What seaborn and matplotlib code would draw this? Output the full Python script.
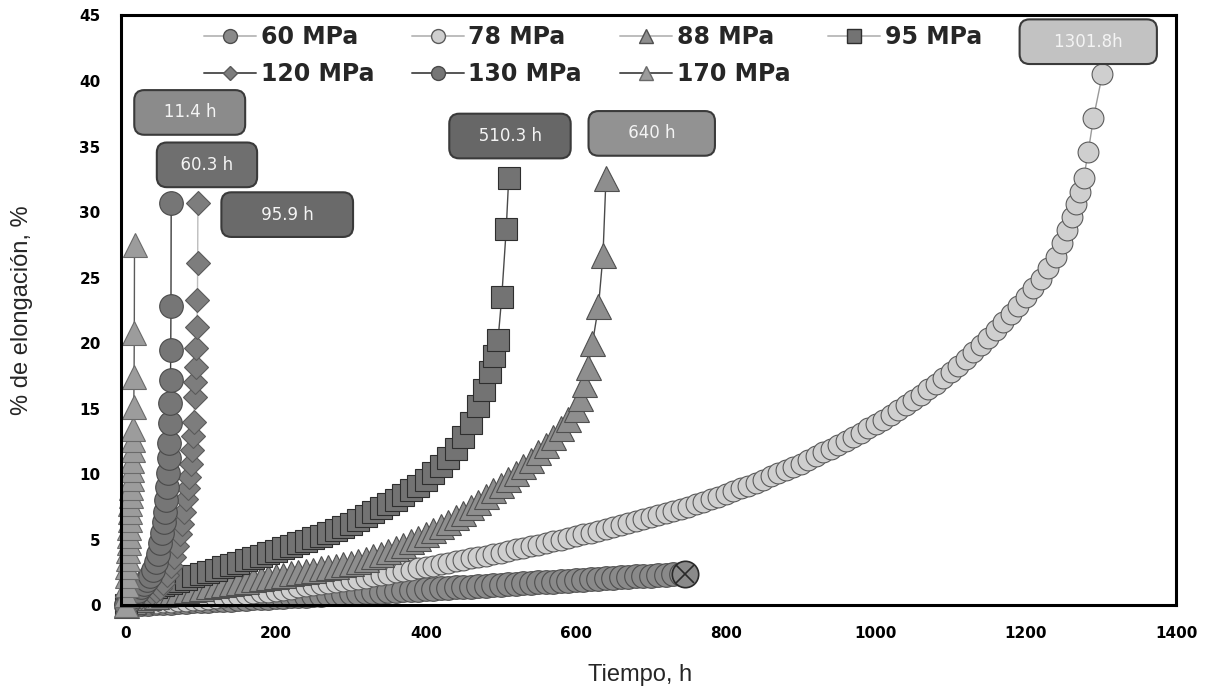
import matplotlib
matplotlib.use("Agg")
import matplotlib.pyplot as plt
from matplotlib.lines import Line2D
from matplotlib.ticker import MultipleLocator
import seaborn as sns

# ---------------- data (time in h, elongation in %) ----------------
t60 = [0, 10, 20, 30, 40, 50, 60, 70, 80, 90,
       100, 110, 120, 130, 140, 150, 160, 170, 180, 190,
       200, 210, 220, 230, 240, 250, 260, 270, 280, 290,
       300, 310, 320, 330, 340, 350, 360, 370, 380, 390,
       400, 410, 420, 430, 440, 450, 460, 470, 480, 490,
       500, 510, 520, 530, 540, 550, 560, 570, 580, 590,
       600, 610, 620, 630, 640, 650, 660, 670, 680, 690,
       700, 710, 720, 730, 740, 745]
e60 = [0, 0.03, 0.06, 0.09, 0.12, 0.15, 0.18, 0.21, 0.24, 0.27,
       0.3, 0.33, 0.36, 0.39, 0.42, 0.45, 0.48, 0.51, 0.54, 0.57,
       0.6, 0.63, 0.66, 0.69, 0.72, 0.75, 0.78, 0.81, 0.84, 0.87,
       0.9, 0.93, 0.96, 0.99, 1.02, 1.05, 1.08, 1.11, 1.14, 1.17,
       1.2, 1.23, 1.27, 1.3, 1.34, 1.37, 1.41, 1.44, 1.48, 1.51,
       1.55, 1.58, 1.62, 1.65, 1.69, 1.72, 1.76, 1.79, 1.83, 1.86,
       1.9, 1.93, 1.97, 2.0, 2.04, 2.07, 2.11, 2.14, 2.18, 2.21,
       2.25, 2.28, 2.32, 2.35, 2.38, 2.4]

t78 = [0, 10, 20, 30, 40, 50, 60, 70, 80, 90,
       100, 110, 120, 130, 140, 150, 160, 170, 180, 190,
       200, 210, 220, 230, 240, 250, 260, 270, 280, 290,
       300, 310, 320, 330, 340, 350, 360, 370, 380, 390,
       400, 410, 420, 430, 440, 450, 460, 470, 480, 490,
       500, 510, 520, 530, 540, 550, 560, 570, 580, 590,
       600, 610, 620, 630, 640, 650, 660, 670, 680, 690,
       700, 710, 720, 730, 740, 750, 760, 770, 780, 790,
       800, 810, 820, 830, 840, 850, 860, 870, 880, 890,
       900, 910, 920, 930, 940, 950, 960, 970, 980, 990,
       1000, 1010, 1020, 1030, 1040, 1050, 1060, 1070, 1080, 1090,
       1100, 1110, 1120, 1130, 1140, 1150, 1160, 1170, 1180, 1190,
       1200, 1210, 1220, 1230, 1240, 1248, 1255, 1261, 1267, 1272,
       1277, 1283, 1290, 1301.8]
e78 = [0.0, 0.05, 0.1, 0.14, 0.18, 0.22, 0.26, 0.3, 0.34, 0.37,
       0.41, 0.47, 0.54, 0.61, 0.68, 0.75, 0.82, 0.89, 0.96, 1.03,
       1.1, 1.18, 1.26, 1.34, 1.42, 1.5, 1.58, 1.66, 1.74, 1.82,
       1.9, 2.0, 2.1, 2.2, 2.3, 2.4, 2.5, 2.6, 2.7, 2.8,
       2.9, 3.01, 3.12, 3.23, 3.34, 3.45, 3.56, 3.67, 3.78, 3.89,
       4.0, 4.12, 4.24, 4.36, 4.48, 4.6, 4.73, 4.86, 4.99, 5.12,
       5.25, 5.39, 5.53, 5.67, 5.81, 5.95, 6.1, 6.25, 6.4, 6.55,
       6.7, 6.86, 7.02, 7.18, 7.35, 7.52, 7.7, 7.88, 8.07, 8.27,
       8.47, 8.68, 8.9, 9.12, 9.35, 9.58, 9.82, 10.06, 10.3, 10.55,
       10.8, 11.08, 11.36, 11.65, 11.94, 12.24, 12.54, 12.85, 13.16, 13.48,
       13.8, 14.16, 14.53, 14.9, 15.28, 15.67, 16.06, 16.46, 16.88, 17.32,
       17.8, 18.28, 18.78, 19.3, 19.84, 20.4, 20.98, 21.58, 22.2, 22.84,
       23.5, 24.2, 24.9, 25.7, 26.6, 27.6, 28.6, 29.6, 30.6, 31.5,
       32.6, 34.6, 37.2, 40.5]

t88 = [0, 10, 20, 30, 40, 50, 60, 70, 80, 90,
       100, 110, 120, 130, 140, 150, 160, 170, 180, 190,
       200, 210, 220, 230, 240, 250, 260, 270, 280, 290,
       300, 310, 320, 330, 340, 350, 360, 370, 380, 390,
       400, 410, 420, 430, 440, 450, 460, 470, 480, 490,
       500, 510, 520, 530, 540, 550, 560, 570, 580, 590,
       600, 606, 611, 616, 622, 630, 636, 640]
e88 = [0, 0.3, 0.45, 0.6, 0.72, 0.84, 0.95, 1.05, 1.15, 1.24,
       1.33, 1.42, 1.51, 1.6, 1.69, 1.78, 1.87, 1.96, 2.05, 2.14,
       2.23, 2.32, 2.41, 2.5, 2.6, 2.7, 2.8, 2.9, 3.0, 3.1,
       3.2, 3.36, 3.54, 3.72, 3.92, 4.12, 4.35, 4.6, 4.85, 5.1,
       5.4, 5.7, 6.0, 6.35, 6.7, 7.05, 7.45, 7.85, 8.3, 8.75,
       9.2, 9.65, 10.1, 10.6, 11.1, 11.65, 12.25, 12.85, 13.5, 14.2,
       15.0, 15.8, 16.9, 18.2, 20.0, 22.8, 26.7, 32.6]

t95 = [0, 10, 20, 30, 40, 50, 60, 70, 80, 90,
       100, 110, 120, 130, 140, 150, 160, 170, 180, 190,
       200, 210, 220, 230, 240, 250, 260, 270, 280, 290,
       300, 310, 320, 330, 340, 350, 360, 370, 380, 390,
       400, 410, 420, 430, 440, 450, 460, 470, 478, 485,
       491, 496, 501, 507, 510.3]
e95 = [0, 0.9, 1.05, 1.2, 1.35, 1.5, 1.68, 1.85, 2.02, 2.19,
       2.36, 2.53, 2.7, 2.87, 3.04, 3.21, 3.4, 3.58, 3.77, 3.96,
       4.15, 4.34, 4.53, 4.72, 4.91, 5.1, 5.3, 5.5, 5.72, 5.95,
       6.2, 6.5, 6.8, 7.1, 7.4, 7.7, 8.05, 8.4, 8.75, 9.1,
       9.55, 10.05, 10.6, 11.2, 11.9, 12.8, 13.9, 15.2, 16.4, 17.8,
       19.0, 20.2, 23.5, 28.7, 32.6]

t120 = [0, 5, 10, 15, 20, 25, 30, 35, 40, 45,
        50, 55, 60, 64, 68, 72, 75, 78, 80.5, 82.5,
        84.5, 86.5, 88, 89.3, 90.5, 91.5, 92.4, 93.2, 94, 94.7,
        95.3, 95.6, 95.9]
e120 = [0, 0.2, 0.35, 0.5, 0.6, 0.7, 0.8, 0.9, 1.05, 1.3,
        1.7, 2.3, 3.0, 3.7, 4.5, 5.4, 6.2, 7.1, 8.1, 8.9,
        9.8, 10.8, 11.8, 12.9, 14.0, 15.9, 17.0, 18.2, 19.6, 21.2,
        23.3, 26.1, 30.7]

t130 = [0, 4, 8, 12, 16, 20, 24, 28, 32, 36,
        40, 43, 46, 48.5, 50.5, 52, 53.5, 54.8, 56, 57,
        57.8, 58.5, 59, 59.4, 59.7, 60.0, 60.3]
e130 = [0, 0.3, 0.6, 0.85, 1.1, 1.35, 1.6, 1.9, 2.25, 2.7,
        3.3, 3.9, 4.7, 5.5, 6.3, 7.1, 8.0, 9.0, 10.1, 11.2,
        12.4, 13.9, 15.4, 17.2, 19.5, 22.8, 30.7]

t170 = [0, 0.5, 1, 1.5, 2, 2.5, 3, 3.5, 4, 4.5,
        5, 5.5, 6, 6.5, 7, 7.5, 8, 8.5, 9, 9.5,
        10, 10.4, 10.8, 11.1, 11.4]
e170 = [0, 0.8, 1.5, 2.2, 2.9, 3.5, 4.1, 4.7, 5.3, 5.9,
        6.5, 7.1, 7.7, 8.3, 8.9, 9.6, 10.3, 11.0, 11.8, 12.6,
        13.4, 15.1, 17.4, 20.8, 27.5]

labels = ["60 MPa", "78 MPa", "88 MPa", "95 MPa", "120 MPa", "130 MPa", "170 MPa"]

# rupture-time annotations: text, x (h), y (%)
ann_text = ["11.4 h", "60.3 h", "95.9 h", "510.3 h", "640 h", "1301.8h"]
ann_x = [85, 108, 215, 512, 701, 1283]
ann_y = [37.6, 33.6, 29.8, 35.8, 36.0, 43.0]
ann_fc = ["#8b8b8b", "#6f6f6f", "#6a6a6a", "#676767", "#929292", "#c2c2c2"]
ann_padspaces = [3, 2, 5, 3, 5, 4]

# ---------------- styling ----------------
sns.set_theme(style="white")
plt.rcParams["font.family"] = ["DejaVu Sans"]

fig = plt.figure(figsize=(12.11, 6.98), dpi=100)
ax = fig.add_axes([0.1003, 0.1332, 0.8708, 0.8446])

series = [
    (t60, e60, "o", 17, "#8a8a8a", "#4e4e4e", "#b5b5b5"),
    (t78, e78, "o", 15, "#cfcfcf", "#5c5c5c", "#9a9a9a"),
    (t88, e88, "^", 18, "#8e8e8e", "#4f4f4f", "#4a4a4a"),
    (t95, e95, "s", 16, "#737373", "#2e2e2e", "#4a4a4a"),
    (t120, e120, "D", 12, "#7d7d7d", "#5a5a5a", "#bdbdbd"),
    (t130, e130, "o", 17, "#767676", "#4a4a4a", "#3d3d3d"),
    (t170, e170, "^", 17, "#9c9c9c", "#6a6a6a", "#5a5a5a"),
]
legend_line = ["#bdbdbd", "#bdbdbd", "#bdbdbd", "#bdbdbd", "#555555", "#555555", "#555555"]

for (tx, ey, mk, ms, fc, ec, lc) in series:
    sns.lineplot(x=tx, y=ey, ax=ax, estimator=None, sort=False,
                 marker=mk, markersize=ms, markerfacecolor=fc,
                 markeredgecolor=ec, markeredgewidth=0.8,
                 color=lc, linewidth=1.0, clip_on=False)

# end-of-test marker (60 MPa, no rupture)
sns.lineplot(x=[t60[-1]], y=[e60[-1]], ax=ax, estimator=None, marker="o",
             markersize=19, markerfacecolor="#8a8a8a", markeredgecolor="#2a2a2a",
             markeredgewidth=1.2, linestyle="none", clip_on=False)
sns.lineplot(x=[t60[-1]], y=[e60[-1]], ax=ax, estimator=None, marker="x",
             markersize=13, markeredgecolor="#2a2a2a", color="#2a2a2a",
             markeredgewidth=1.2, linestyle="none", clip_on=False)

# annotations
for txt, x, y, fc, npad in zip(ann_text, ann_x, ann_y, ann_fc, ann_padspaces):
    ax.text(x, y, " " * npad + txt + " " * npad, ha="center", va="center",
            fontsize=12, color="#f4f4f4", family="DejaVu Sans",
            bbox=dict(boxstyle="round,pad=0.8,rounding_size=0.6",
                      fc=fc, ec="#3a3a3a", lw=1.5))

# axes
ax.set_xlim(-6, 1400)
ax.set_ylim(0, 45)
ax.xaxis.set_major_locator(MultipleLocator(200))
ax.xaxis.set_minor_locator(MultipleLocator(40))
ax.yaxis.set_major_locator(MultipleLocator(5))
ax.yaxis.set_minor_locator(MultipleLocator(0.5))
for s in ax.spines.values():
    s.set_visible(True)
    s.set_color("black")
    s.set_linewidth(2.2)
ax.tick_params(axis="both", which="major", direction="out", length=7, width=1.6,
               colors="black", labelsize=11)
ax.tick_params(axis="x", which="major", pad=8)
ax.tick_params(axis="y", which="major", pad=8)
ax.tick_params(axis="both", which="minor", direction="inout", length=6, width=1.4,
               colors="black")
ax.tick_params(top=False, right=False, which="both")
ax.tick_params(axis="x", which="minor", direction="out", length=6)
for lab in ax.get_xticklabels() + ax.get_yticklabels():
    lab.set_fontweight("bold")
ax.set_xlabel("")
ax.set_ylabel("")

fig.text(22 / 1211, 1 - 310 / 698, "% de elongación, %", rotation=90,
         ha="center", va="center", fontsize=17, family="Liberation Sans")
fig.text(640 / 1211, 1 - 675 / 698, "Tiempo, h", ha="center", va="center",
         fontsize=17, family="Liberation Sans")

# legend
handles = []
for (tx, ey, mk, ms, fc, ec, lc), lab, llc in zip(series, labels, legend_line):
    handles.append(Line2D([0], [0], marker=mk, markersize=(7 if mk == "D" else 10),
                          markerfacecolor=fc, markeredgecolor=ec, color=llc,
                          linewidth=1.4, label=lab))
order = [0, 4, 1, 5, 2, 6, 3]
leg = ax.legend([handles[i] for i in order], [labels[i] for i in order],
                ncol=4, loc="upper left", bbox_to_anchor=(0.058, 1.02),
                frameon=False, handlelength=2.2, handletextpad=0.2,
                columnspacing=1.6, labelspacing=0.55,
                prop=dict(family="DejaVu Sans", weight="bold", size=17))

fig.savefig("out.png", dpi=100)
